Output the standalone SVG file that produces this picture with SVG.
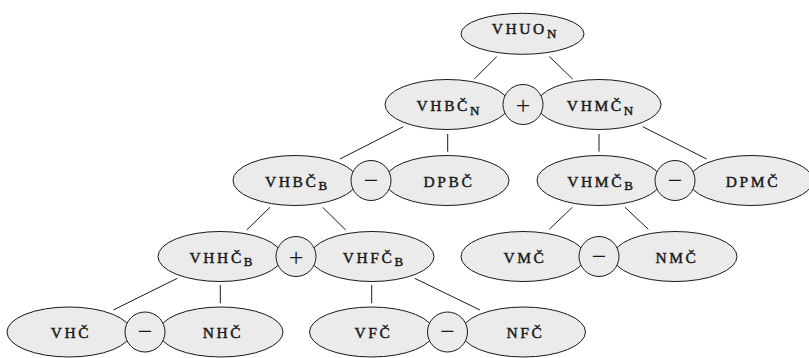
<svg xmlns="http://www.w3.org/2000/svg" width="809" height="358" viewBox="0 0 809 358">
<style>
.n ellipse{fill:#ebebeb;stroke:#1a1a1a;stroke-width:1}
.o circle{fill:#ebebeb;stroke:#1a1a1a;stroke-width:1}
.t{font-family:"Liberation Serif",serif;font-size:15.5px;letter-spacing:2.6px;fill:#1a1a1a;stroke:#1a1a1a;stroke-width:0.45px;text-anchor:middle}
.s{font-size:13px;letter-spacing:0}
.op{font-family:"Liberation Serif",serif;font-size:26px;fill:#1a1a1a;text-anchor:middle}
#connectors line{stroke:#1a1a1a;stroke-width:1}
</style>
<g id="connectors">
<line x1="496.7" y1="56.7" x2="474.3" y2="79"/>
<line x1="549.3" y1="56.5" x2="572.7" y2="79"/>
<line x1="403.3" y1="126.7" x2="340" y2="159"/>
<line x1="447.7" y1="134" x2="447.7" y2="151.7"/>
<line x1="599" y1="134" x2="599" y2="151.7"/>
<line x1="642.7" y1="126.7" x2="706.7" y2="159"/>
<line x1="270" y1="207.3" x2="246.7" y2="230"/>
<line x1="322.7" y1="207.3" x2="345.7" y2="230"/>
<line x1="572.3" y1="207.3" x2="549.3" y2="229.3"/>
<line x1="625" y1="207.3" x2="648.3" y2="229.3"/>
<line x1="177.3" y1="278.3" x2="113.3" y2="310"/>
<line x1="220.3" y1="285" x2="220.3" y2="303.3"/>
<line x1="371.7" y1="285" x2="371.7" y2="303.3"/>
<line x1="414.7" y1="278.3" x2="480" y2="310"/>
</g>
<g id="VHUO_N" class="n"><ellipse cx="522.5" cy="33.8" rx="61.5" ry="20.5"/><text class="t" x="524" y="34">VHUO<tspan class="s" dy="3.5">N</tspan></text></g>
<g id="VHBC_N" class="n"><ellipse cx="447" cy="104.5" rx="62" ry="25"/><text class="t" x="448" y="111">VHBČ<tspan class="s" dy="3.5">N</tspan></text></g>
<g id="VHMC_N" class="n"><ellipse cx="599" cy="104.5" rx="62" ry="25"/><text class="t" x="600" y="111">VHMČ<tspan class="s" dy="3.5">N</tspan></text></g>
<g id="VHBC_B" class="n"><ellipse cx="295" cy="180.5" rx="62" ry="25"/><text class="t" x="296" y="186.5">VHBČ<tspan class="s" dy="3">B</tspan></text></g>
<g id="DPBC" class="n"><ellipse cx="447" cy="180.5" rx="62" ry="25"/><text class="t" x="449" y="186.5">DPBČ</text></g>
<g id="VHMC_B" class="n"><ellipse cx="599" cy="180.5" rx="62" ry="25"/><text class="t" x="600" y="186.5">VHMČ<tspan class="s" dy="3">B</tspan></text></g>
<g id="DPMC" class="n"><ellipse cx="751" cy="180.5" rx="62" ry="25"/><text class="t" x="753" y="186.5">DPMČ</text></g>
<g id="VHHC_B" class="n"><ellipse cx="220" cy="256.5" rx="62" ry="25"/><text class="t" x="221" y="262.5">VHHČ<tspan class="s" dy="3">B</tspan></text></g>
<g id="VHFC_B" class="n"><ellipse cx="372" cy="256.5" rx="62" ry="25"/><text class="t" x="373" y="262.5">VHFČ<tspan class="s" dy="3">B</tspan></text></g>
<g id="VMC" class="n"><ellipse cx="523" cy="256.5" rx="62" ry="25"/><text class="t" x="525" y="262.5">VMČ</text></g>
<g id="NMC" class="n"><ellipse cx="675" cy="256.5" rx="62" ry="25"/><text class="t" x="677" y="262.5">NMČ</text></g>
<g id="VHC" class="n"><ellipse cx="69" cy="332" rx="62" ry="25"/><text class="t" x="71" y="338">VHČ</text></g>
<g id="NHC" class="n"><ellipse cx="221" cy="332" rx="62" ry="25"/><text class="t" x="223" y="338">NHČ</text></g>
<g id="VFC" class="n"><ellipse cx="371.5" cy="332" rx="62" ry="25"/><text class="t" x="373.5" y="338">VFČ</text></g>
<g id="NFC" class="n"><ellipse cx="523.5" cy="332" rx="62" ry="25"/><text class="t" x="525.5" y="338">NFČ</text></g>
<g id="op1" class="o"><circle cx="523" cy="104.5" r="20"/><text class="op" x="523" y="113.5">+</text></g>
<g id="op2" class="o"><circle cx="371" cy="180.5" r="20"/><text class="op" x="371" y="188.5">−</text></g>
<g id="op3" class="o"><circle cx="675" cy="180.5" r="20"/><text class="op" x="675" y="188.5">−</text></g>
<g id="op4" class="o"><circle cx="296" cy="256.5" r="20"/><text class="op" x="296" y="265.5">+</text></g>
<g id="op5" class="o"><circle cx="599" cy="256.5" r="20"/><text class="op" x="599" y="264.5">−</text></g>
<g id="op6" class="o"><circle cx="145" cy="332" r="20"/><text class="op" x="145" y="340">−</text></g>
<g id="op7" class="o"><circle cx="447.5" cy="332" r="20"/><text class="op" x="447.5" y="340">−</text></g>
</svg>
